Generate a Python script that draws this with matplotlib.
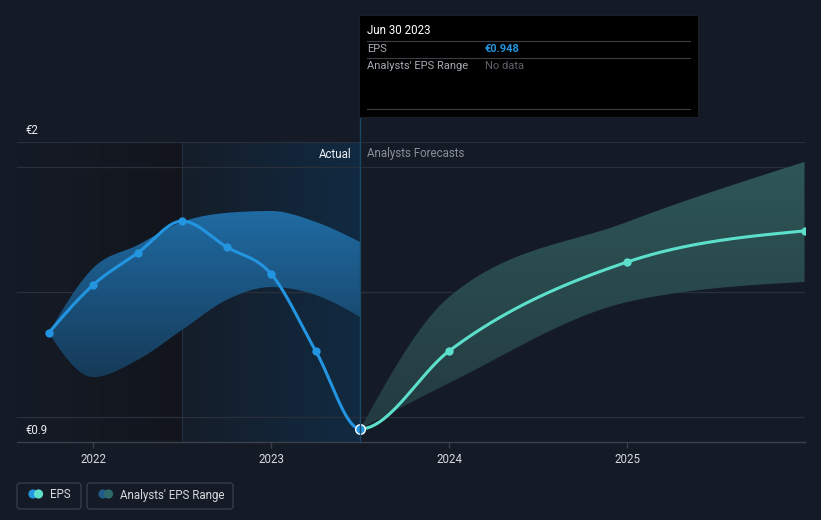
import numpy as np
import matplotlib
matplotlib.use("Agg")
import matplotlib.pyplot as plt
from matplotlib.patches import FancyBboxPatch, Rectangle, Circle
from matplotlib.colors import LinearSegmentedColormap

# ---------------- data ----------------
eps_dates = [2021.75, 2022.0, 2022.25, 2022.5, 2022.75, 2023.0, 2023.25, 2023.5]
eps_values = [1.300, 1.476, 1.593, 1.710, 1.615, 1.516, 1.234, 0.948]
past_range_low = [1.300, 1.138, 1.201, 1.311, 1.421, 1.468, 1.439, 1.358]
past_range_high = [1.300, 1.538, 1.622, 1.707, 1.740, 1.747, 1.707, 1.633]

fc_dates = [2023.5, 2024.0, 2025.0, 2025.996]
fc_values = [0.948, 1.234, 1.560, 1.674]
fc_low = [0.948, 1.116, 1.413, 1.487]
fc_high = [0.948, 1.432, 1.707, 1.927]

year_ticks = [2022, 2023, 2024, 2025]
year_labels = ["2022", "2023", "2024", "2025"]
grid_values = [1.908, 1.450, 0.992]
y_min, y_max = 0.9, 2.0
y_labels = ["€2", "€0.9"]
x_lim = (2021.571, 2025.996)
today = 2023.5
actual_start = 2022.5

tooltip_date = "Jun 30 2023"
tooltip_eps = "€0.948"

BG = "#151b26"
BLUE = "#2394df"
TEAL = "#5ce0cc"
FONT = ["Roboto", "DejaVu Sans"]


def monotone(x, y, n=60):
    x = np.asarray(x, float)
    y = np.asarray(y, float)
    h = np.diff(x)
    d = np.diff(y) / h
    m = np.zeros_like(y)
    for i in range(1, len(y) - 1):
        p = (d[i - 1] * h[i] + d[i] * h[i - 1]) / (h[i - 1] + h[i])
        m[i] = (np.sign(d[i - 1]) + np.sign(d[i])) * min(abs(d[i - 1]), abs(d[i]), 0.5 * abs(p))
    if len(y) > 2:
        m[0] = (3 * d[0] - m[1]) / 2
        m[-1] = (3 * d[-1] - m[-2]) / 2
    else:
        m[0] = m[-1] = d[0]
    xs, ys = [], []
    for i in range(len(h)):
        t = np.linspace(0, 1, n)
        h00 = 2 * t**3 - 3 * t**2 + 1
        h10 = t**3 - 2 * t**2 + t
        h01 = -2 * t**3 + 3 * t**2
        h11 = t**3 - t**2
        yy = h00 * y[i] + h10 * h[i] * m[i] + h01 * y[i + 1] + h11 * h[i] * m[i + 1]
        xx = x[i] + t * h[i]
        if i > 0:
            xx, yy = xx[1:], yy[1:]
        xs.append(xx)
        ys.append(yy)
    return np.concatenate(xs), np.concatenate(ys)


fig = plt.figure(figsize=(8.21, 5.20), dpi=100, facecolor=BG)
W, H = 821, 520
ax_l, ax_r, ax_t, ax_b = 16.8, 804.5, 142, 442
ax = fig.add_axes([ax_l / W, 1 - ax_b / H, (ax_r - ax_l) / W, (ax_b - ax_t) / H])
ax.set_facecolor(BG)
ax.set_xlim(*x_lim)
ax.set_ylim(y_min, y_max)

# background shading regions
dark = LinearSegmentedColormap.from_list("dark", [BG, "#12151c"])
ax.imshow(np.linspace(0, 1, 256).reshape(1, -1), cmap=dark, aspect="auto",
          extent=[x_lim[0], actual_start, y_min, y_max], zorder=0.5)
blueish = LinearSegmentedColormap.from_list("blueish", ["#151d29", "#112a41"])
ax.imshow(np.linspace(0, 1, 256).reshape(1, -1), cmap=blueish, aspect="auto",
          extent=[actual_start, today, y_min, y_max], zorder=0.5)
ax.axvline(actual_start, color="#22303f", lw=0.8, zorder=0.6)

# grid lines
for g in grid_values + [y_max]:
    ax.axhline(g, color="#2a303b", lw=0.9, zorder=0.7)


def gradient_band(xd, lo, hi, c_top, c_bot, z):
    xs, ylo = monotone(xd, lo)
    _, yhi = monotone(xd, hi)
    poly = ax.fill_between(xs, ylo, yhi, color="none", lw=0)
    cmap = LinearSegmentedColormap.from_list("g", [c_bot, c_top])
    img = ax.imshow(np.linspace(0, 1, 256).reshape(-1, 1), cmap=cmap, aspect="auto",
                    origin="lower", extent=[xd[0], xd[-1], min(lo), max(hi)], zorder=z)
    img.set_clip_path(poly.get_paths()[0], transform=ax.transData)


gradient_band(eps_dates, past_range_low, past_range_high, "#1f6ba3", "#163a58", 2)
gradient_band(fc_dates, fc_low, fc_high, "#2e5657", "#233a41", 2)

# EPS line (single smooth series, coloured past / forecast)
all_x = eps_dates + fc_dates[1:]
all_y = eps_values + fc_values[1:]
sx, sy = monotone(all_x, all_y, n=80)
past = sx <= today + 1e-9
fut = sx >= today - 1e-9
ax.plot(sx[past], sy[past], color=BLUE, lw=2.2, zorder=4, solid_capstyle="round")
ax.plot(sx[fut], sy[fut], color=TEAL, lw=2.2, zorder=4, solid_capstyle="round")
ax.scatter(eps_dates[:-1], eps_values[:-1], s=36, color=BLUE, zorder=5, lw=0)
ax.scatter(fc_dates[1:], fc_values[1:], s=36, color=TEAL, zorder=5, lw=0)
ax.scatter([eps_dates[-1]], [eps_values[-1]], s=48, color=BLUE, edgecolor="white", lw=1.0, zorder=6)

# axes styling
for s in ["top", "right", "left"]:
    ax.spines[s].set_visible(False)
ax.spines["bottom"].set_color("#3b414c")
ax.spines["bottom"].set_linewidth(1.0)
ax.set_yticks([])
ax.set_xticks(year_ticks)
ax.set_xticklabels(year_labels)
ax.tick_params(axis="x", colors="#3b414c", length=4, width=1, pad=4, labelsize=8.3,
               labelcolor="#d6d9de")
for t in ax.get_xticklabels():
    t.set_family(FONT)

# overlay axes in pixel coordinates
ov = fig.add_axes([0, 0, 1, 1], zorder=10)
ov.set_xlim(0, W)
ov.set_ylim(H, 0)
ov.axis("off")
ov.patch.set_alpha(0)

# today line
ov.plot([359.5, 359.5], [117, ax_b], color="#1d4566", lw=1.0, zorder=1)

# y labels
ov.text(26, 130, y_labels[0], color="#e8eaee", fontsize=8.3, family=FONT, va="center", ha="left")
ov.text(26, 430, y_labels[1], color="#e8eaee", fontsize=8.3, family=FONT, va="center", ha="left")

# Actual / Forecast
ov.text(351, 154, "Actual", color="#eef0f3", fontsize=8.3, family=FONT, va="center", ha="right")
ov.text(367, 154, "Analysts Forecasts", color="#8a8f98", fontsize=8.3, family=FONT, va="center", ha="left")

# tooltip
ov.add_patch(Rectangle((359, 15), 339, 102, facecolor="#000000", edgecolor="#1a1e26", lw=0.8, zorder=2))
ov.text(367, 31, tooltip_date, color="#ffffff", fontsize=8.3, family=FONT, va="center", ha="left", zorder=3)
for yy in [41, 58, 109]:
    ov.plot([367, 690], [yy, yy], color="#3a3d42", lw=0.8, zorder=3)
ov.text(367, 49, "EPS", color="#a7abb2", fontsize=8.0, family=FONT, va="center", ha="left", zorder=3)
ov.text(485, 49, tooltip_eps, color=BLUE, fontsize=8.0, family=FONT, va="center", ha="left",
        weight="bold", zorder=3)
ov.text(367, 66, "Analysts' EPS Range", color="#a7abb2", fontsize=8.0, family=FONT, va="center",
        ha="left", zorder=3)
ov.text(485, 66, "No data", color="#5f636a", fontsize=8.0, family=FONT, va="center", ha="left", zorder=3)

# legend
for (x0, w) in [(17, 64), (87, 146)]:
    ov.add_patch(FancyBboxPatch((x0, 483), w, 26, boxstyle="round,pad=0,rounding_size=3",
                                facecolor="none", edgecolor="#3a404b", lw=0.9))
ov.add_patch(Circle((33, 494), 4.6, color=BLUE, lw=0))
ov.add_patch(Circle((38.5, 494), 4.6, color=TEAL, lw=0))
ov.text(50, 495, "EPS", color="#d6d9de", fontsize=8.3, family=FONT, va="center", ha="left")
ov.add_patch(Circle((103, 494), 4.6, color="#1f5a88", lw=0))
ov.add_patch(Circle((108.5, 494), 4.6, color="#2f6a6a", lw=0))
ov.text(120, 495, "Analysts' EPS Range", color="#d6d9de", fontsize=8.3, family=FONT, va="center", ha="left")

fig.savefig("out.png", dpi=100, facecolor=BG)
